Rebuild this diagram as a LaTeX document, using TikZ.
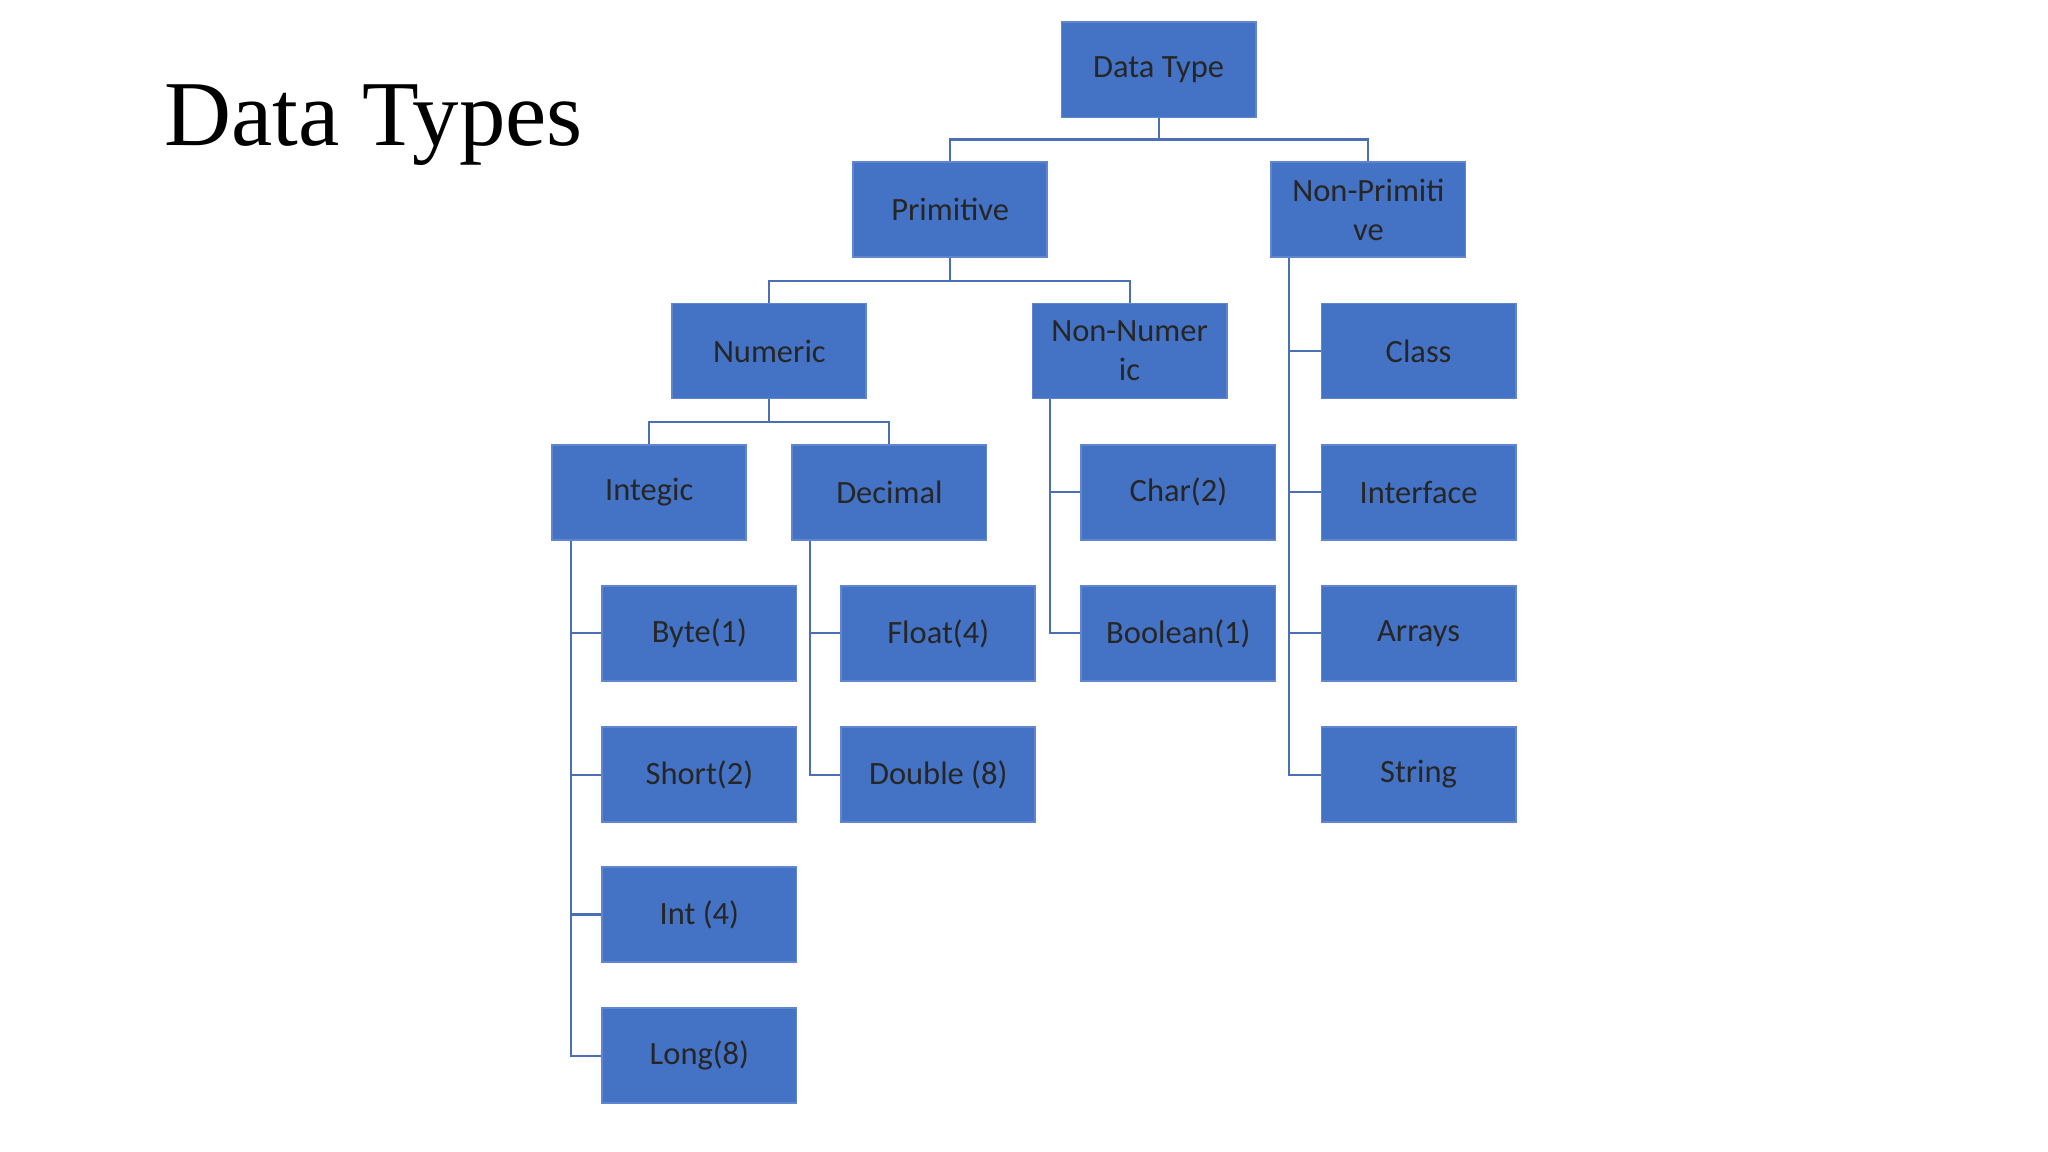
\documentclass[tikz,border=0pt]{standalone}
\usepackage{fontspec}
\setmainfont{Carlito}
\newfontfamily\titlefont{Liberation Serif}
\definecolor{boxblue}{HTML}{4472C4}
\definecolor{linec}{HTML}{4A6FB5}
\begin{document}
\begin{tikzpicture}[x=0.01cm,y=-0.01cm,
  bx/.style={fill=boxblue,draw=boxblue!85!white,line width=0.4pt,minimum width=1.47cm,minimum height=0.72cm,inner sep=0pt,align=center,font=\fontsize{7}{8.4}\selectfont,text=black!85},
  ln/.style={draw=linec,line width=0.45pt}]
\useasboundingbox (0,0) rectangle (1552,873);
\node[font=\titlefont\fontsize{20}{24}\selectfont] (title) at (283,95) {Data Types};
\node[bx] (dt) at (878,53) {Data Type};
\node[bx] (pr) at (720,159) {Primitive};
\node[bx] (np) at (1037,159) {Non-Primiti\\ve};
\node[bx] (nu) at (583,266) {Numeric};
\node[bx] (nn) at (856,266) {Non-Numer\\ic};
\node[bx] (in) at (492,373) {Integic};
\node[bx] (de) at (674,373) {Decimal};
\node[bx] (by) at (530,480) {Byte(1)};
\node[bx] (sh) at (530,587) {Short(2)};
\node[bx] (it) at (530,693) {Int (4)};
\node[bx] (lo) at (530,800) {Long(8)};
\node[bx] (fl) at (711,480) {Float(4)};
\node[bx] (db) at (711,587) {Double (8)};
\node[bx] (ch) at (893,373) {Char(2)};
\node[bx] (bo) at (893,480) {Boolean(1)};
\node[bx] (cl) at (1075,266) {Class};
\node[bx] (if) at (1075,373) {Interface};
\node[bx] (ar) at (1075,480) {Arrays};
\node[bx] (st) at (1075,587) {String};
% tree connectors
\draw[ln] (dt.south) -- ++(0,16) -| (pr.north);
\draw[ln] (dt.south) -- ++(0,16) -| (np.north);
\draw[ln] (pr.south) -- ++(0,17) -| (nu.north);
\draw[ln] (pr.south) -- ++(0,17) -| (nn.north);
\draw[ln] (nu.south) -- ++(0,17) -| (in.north);
\draw[ln] (nu.south) -- ++(0,17) -| (de.north);
% list connectors
\foreach \c in {by,sh,it,lo}{\draw[ln] (in.south -| 433,0) |- (\c.west);}
\foreach \c in {fl,db}{\draw[ln] (de.south -| 614,0) |- (\c.west);}
\foreach \c in {ch,bo}{\draw[ln] (nn.south -| 796,0) |- (\c.west);}
\foreach \c in {cl,if,ar,st}{\draw[ln] (np.south -| 977,0) |- (\c.west);}
\end{tikzpicture}
\end{document}
